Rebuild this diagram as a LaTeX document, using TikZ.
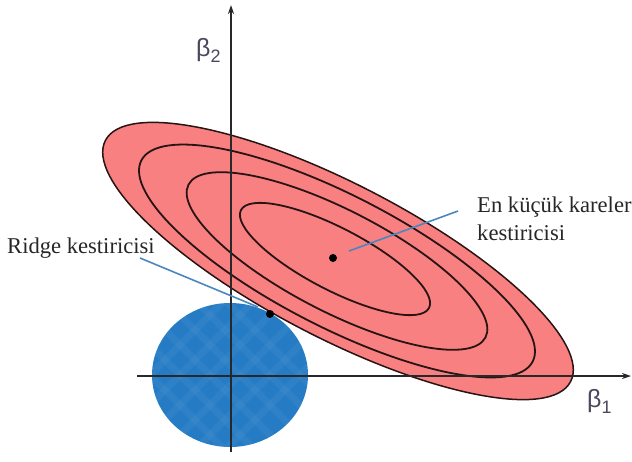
\documentclass[tikz,border=0pt]{standalone}
\usepackage{fontspec}
\setmainfont{Liberation Serif}
\newfontfamily\greekfont{Liberation Sans}
\usetikzlibrary{arrows.meta}
\definecolor{pinkfill}{RGB}{248,128,128}
\definecolor{ringcol}{RGB}{40,20,20}
\definecolor{bluefill}{RGB}{38,124,196}
\definecolor{bluelight}{RGB}{120,175,225}
\definecolor{leadercol}{RGB}{74,134,192}
\definecolor{axiscol}{RGB}{40,40,40}
\definecolor{greekcol}{RGB}{75,70,95}
\tikzset{
  axisline/.style={draw=axiscol, line width=1.5pt, -{Stealth[length=9pt,width=6pt]}},
  ring/.style={draw=ringcol, line width=1.8pt},
  leader/.style={draw=leadercol, line width=1.6pt},
  dotmark/.style={circle, fill=black, inner sep=0pt, minimum size=8pt},
  lbl/.style={inner sep=0pt, font=\fontsize{22.6}{28}\selectfont, text=black!85},
  greeklbl/.style={inner sep=0pt, font=\greekfont\fontsize{25}{25}\selectfont, text=greekcol},
}
\begin{document}
\begin{tikzpicture}[x=1pt,y=-1pt]
\useasboundingbox (0,0) rectangle (632,461);
% blue constraint region
\begin{scope}
  \clip (230,375) ellipse [x radius=78, y radius=72];
  \fill[bluefill] (150,300) rectangle (310,450);
  \foreach \d in {-120,-80,-50,-20,10,40,70,110} {
    \draw[bluelight, opacity=0.1, line width=7pt] (230+\d-120,375-120) -- (230+\d+120,375+120);
    \draw[bluelight, opacity=0.1, line width=7pt] (230+\d+120,375-120) -- (230+\d-120,375+120);
  }
\end{scope}
% least squares contours
\fill[pinkfill, rotate around={-27.4:(338,261)}] (338,261) ellipse [x radius=262, y radius=77];
\draw[ring, line width=1.5pt, rotate around={-27.4:(338,261)}] (338,261) ellipse [x radius=262, y radius=77];
\draw[ring, rotate around={-27.2:(337,261)}] (337,261) ellipse [x radius=220, y radius=66];
\draw[ring, rotate around={-27.2:(337,261)}] (337,261) ellipse [x radius=167, y radius=51];
\draw[ring, rotate around={-27.5:(335,259)}] (335,259) ellipse [x radius=106, y radius=31];
% axes
\coordinate (xstart) at (137,376);
\coordinate (xend) at (631,376);
\coordinate (ystart) at (231,452);
\coordinate (yend) at (231,5);
\draw[axisline] (xstart) -- (xend);
\draw[axisline] (ystart) -- (yend);
% estimators
\node[dotmark] (lsdot) at (333,258) {};
\node[dotmark] (ridgedot) at (270,314) {};
% labels
\node[lbl, anchor=base west] (ridgelbl) at (7,253) {Ridge kestiricisi};
\node[lbl, anchor=north west, align=left] (lslbl) at (477,197) {En küçük kareler\\kestiricisi};
\coordinate (ridgestart) at (140,258);
\coordinate (ridgeend) at (258,307);
\coordinate (lsstart) at (458,211);
\coordinate (lsend) at (349,251);
\draw[leader] (ridgestart) -- (ridgeend);
\draw[leader] (lsstart) -- (lsend);
\node[greeklbl, anchor=base west] (b2) at (196,56) {β\raisebox{-6pt}{\fontsize{18}{18}\selectfont 2}};
\node[greeklbl, anchor=base west] (b1) at (587,407) {β\raisebox{-6pt}{\fontsize{18}{18}\selectfont 1}};
\end{tikzpicture}
\end{document}
